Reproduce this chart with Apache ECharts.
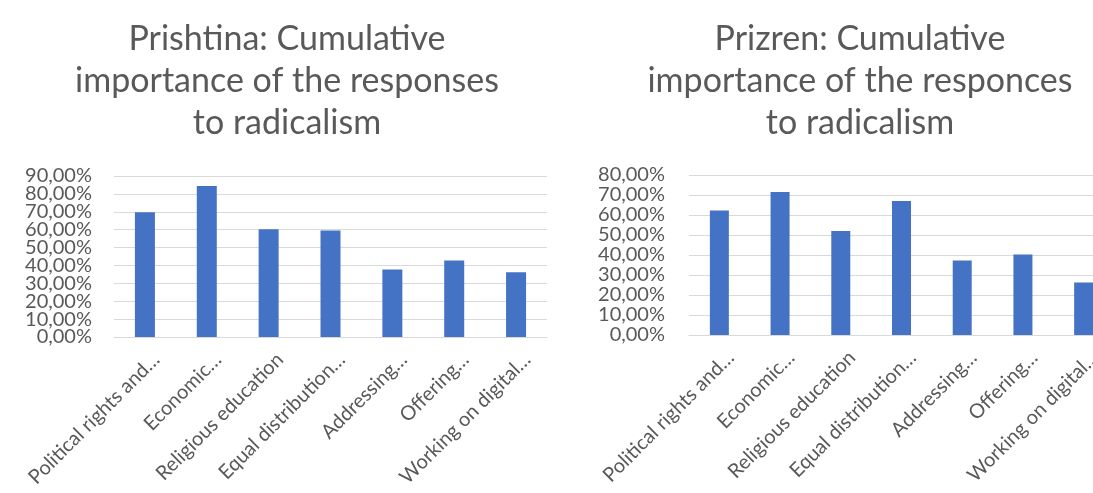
<!DOCTYPE html>
<html>
<head>
<meta charset="utf-8">
<script src="https://cdn.jsdelivr.net/npm/echarts@6/dist/echarts.min.js"></script>
<style>
  html, body { margin: 0; padding: 0; background: #fff; }
  #main { width: 1093px; height: 493px; }
</style>
</head>
<body>
<div id="main"></div>
<script>
const categories = [
  "Political rights and…",
  "Economic…",
  "Religious education",
  "Equal distribution…",
  "Addressing…",
  "Offering…",
  "Working on digital…",
];
const prishtinaValues = [69.7, 84.4, 60.3, 59.6, 37.7, 42.8, 36.2];
const prizrenValues = [62.2, 71.5, 52.0, 67.0, 37.3, 40.3, 26.3];

const font = "Lato, 'Open Sans', sans-serif";
const textColor = "#595959";

const fmtPct = (v) => v.toFixed(2).replace(".", ",") + "%";

const makeX = (gridIndex) => ({
  type: "category",
  gridIndex,
  data: categories,
  axisTick: { show: false },
  axisLine: { lineStyle: { color: "#d9d9d9" } },
  axisLabel: {
    rotate: 45,
    interval: 0,
    margin: 8,
    verticalAlign: "top",
    padding: [6, 0, 0, 0],
    fontSize: 20,
    fontFamily: font,
    color: textColor,
  },
});

// the labels sit closer than their height, so ECharts drops the ones next to
// min/max. Split them over two overlaid axes: inner ticks on one, ends on the other.
const makeY = (gridIndex, max, margin, ends) => ({
  type: "value",
  gridIndex,
  position: "left",
  offset: 0,
  min: 0,
  max,
  interval: 10,
  axisLabel: {
    formatter: (v) => {
      const isEnd = v === 0 || v === max;
      return isEnd === ends ? fmtPct(v) : "";
    },
    fontSize: 20,
    fontFamily: font,
    color: textColor,
    margin,
    showMinLabel: ends ? true : undefined,
    showMaxLabel: ends ? true : undefined,
  },
  splitLine: { show: !ends, lineStyle: { color: "#d9d9d9" } },
});

const titleStyle = {
  fontSize: 34,
  fontWeight: "normal",
  fontFamily: font,
  color: textColor,
  lineHeight: 42,
};

const myChart = echarts.init(document.getElementById("main"));

myChart.setOption({
  animation: false,
  title: [
    {
      text: "Prishtina: Cumulative\nimportance of the responses\nto radicalism",
      left: 282,
      top: 13,
      textAlign: "center",
      textStyle: titleStyle,
    },
    {
      text: "Prizren: Cumulative\nimportance of the responces\nto radicalism",
      left: 855,
      top: 13,
      textAlign: "center",
      textStyle: titleStyle,
    },
  ],
  grid: [
    { left: 114, right: 546, top: 176, bottom: 156, outerBoundsMode: "none" },
    { left: 689, right: -21, top: 175, bottom: 158, outerBoundsMode: "none" },
  ],
  xAxis: [makeX(0), makeX(1)],
  yAxis: [
    makeY(0, 90, 22, false),
    makeY(0, 90, 22, true),
    makeY(1, 80, 24, false),
    makeY(1, 80, 24, true),
  ],
  series: [
    {
      type: "bar",
      xAxisIndex: 0,
      yAxisIndex: 0,
      data: prishtinaValues,
      barWidth: 20,
      itemStyle: { color: "#4472C4" },
    },
    {
      type: "bar",
      xAxisIndex: 1,
      yAxisIndex: 2,
      data: prizrenValues,
      barWidth: 19,
      itemStyle: { color: "#4472C4" },
    },
  ],
});
</script>
</body>
</html>
